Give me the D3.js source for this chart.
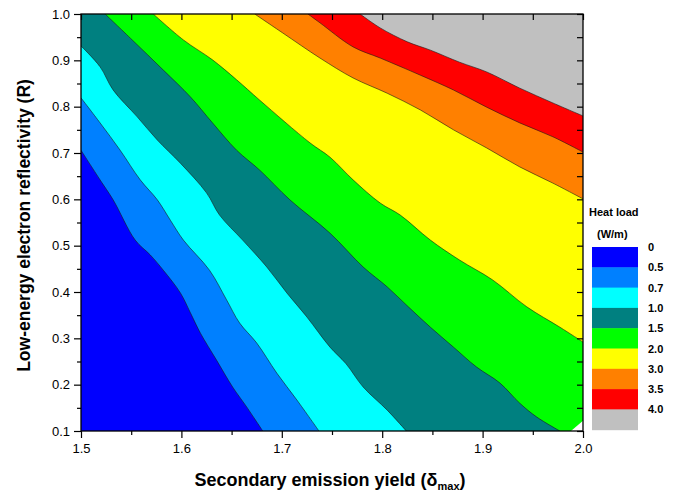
<!DOCTYPE html>
<html>
<head>
<meta charset="utf-8">
<script src="https://cdn.jsdelivr.net/npm/d3@7/dist/d3.min.js"></script>
<style>
  html, body { margin: 0; padding: 0; background: #fff; }
  svg { display: block; }
  text { font-family: "Liberation Sans", Arial, sans-serif; }
</style>
</head>
<body>
<svg id="chart" width="683" height="495"></svg>
<script>
// Heat load levels (W/m) and the fill colour of each band above a level
const heatLevels = [0, 0.5, 0.7, 1.0, 1.5, 2.0, 3.0, 3.5, 4.0];
const levelLabels = ["0", "0.5", "0.7", "1.0", "1.5", "2.0", "3.0", "3.5", "4.0"];
const levelColors = ["#0000ff", "#0080ff", "#00ffff", "#008080", "#00ff00",
                     "#ffff00", "#ff8000", "#ff0000", "#c0c0c0"];

// Axis ticks
const xMajorTicks = [1.5, 1.6, 1.7, 1.8, 1.9, 2.0];
const yMajorTicks = [0.1, 0.2, 0.3, 0.4, 0.5, 0.6, 0.7, 0.8, 0.9, 1.0];

// Iso-lines of heat load, [delta_max, R] pairs, running from the upper-left edge to the lower-right edge
const contour05 = [[1.500, 0.706], [1.519, 0.642], [1.532, 0.599], [1.554, 0.512], [1.569, 0.480],
                   [1.582, 0.447], [1.599, 0.398], [1.609, 0.355], [1.619, 0.311], [1.635, 0.253],
                   [1.651, 0.195], [1.665, 0.152], [1.681, 0.100]];
const contour07 = [[1.500, 0.819], [1.519, 0.765], [1.539, 0.706], [1.559, 0.642], [1.576, 0.599],
                   [1.589, 0.555], [1.602, 0.512], [1.628, 0.447], [1.645, 0.383], [1.658, 0.333],
                   [1.675, 0.290], [1.695, 0.225], [1.715, 0.167], [1.737, 0.100]];
const contour10 = [[1.500, 0.931], [1.519, 0.886], [1.532, 0.836], [1.556, 0.778], [1.576, 0.728],
                   [1.599, 0.678], [1.625, 0.614], [1.638, 0.566], [1.661, 0.512], [1.685, 0.454],
                   [1.705, 0.398], [1.725, 0.346], [1.748, 0.281], [1.764, 0.245], [1.781, 0.195],
                   [1.805, 0.145], [1.824, 0.100]];
const contour15 = [[1.524, 1.000], [1.551, 0.944], [1.582, 0.879], [1.609, 0.821], [1.631, 0.765],
                   [1.655, 0.706], [1.678, 0.663], [1.708, 0.599], [1.748, 0.527], [1.781, 0.454],
                   [1.805, 0.411], [1.826, 0.368], [1.848, 0.324], [1.871, 0.281], [1.894, 0.238],
                   [1.917, 0.204], [1.937, 0.160], [1.954, 0.130], [1.977, 0.100]];
const contour20 = [[1.572, 1.000], [1.602, 0.944], [1.631, 0.901], [1.655, 0.858], [1.678, 0.814],
                   [1.728, 0.722], [1.748, 0.691], [1.771, 0.642], [1.798, 0.592], [1.818, 0.566],
                   [1.848, 0.512], [1.877, 0.469], [1.910, 0.426], [1.944, 0.368], [1.977, 0.324],
                   [2.000, 0.292]];
const contour30 = [[1.673, 1.000], [1.701, 0.959], [1.738, 0.905], [1.771, 0.862], [1.805, 0.829],
                   [1.838, 0.793], [1.871, 0.750], [1.904, 0.711], [1.937, 0.670], [1.970, 0.635],
                   [2.000, 0.601]];
const contour35 = [[1.726, 1.000], [1.738, 0.981], [1.771, 0.929], [1.798, 0.905], [1.838, 0.868],
                   [1.871, 0.836], [1.904, 0.799], [1.937, 0.765], [1.970, 0.735], [2.000, 0.702]];
const contour40 = [[1.778, 1.000], [1.798, 0.970], [1.825, 0.940], [1.848, 0.922], [1.877, 0.896],
                   [1.904, 0.875], [1.937, 0.840], [1.970, 0.808], [2.000, 0.780]];

// Corner of the parameter space without computed data
const noDataRegion = [[1.988, 0.100], [2.000, 0.100], [2.000, 0.122]];

const contours = [contour05, contour07, contour10, contour15, contour20, contour30, contour35, contour40];

const svg = d3.select("#chart");
const x = d3.scaleLinear().domain([1.5, 2.0]).range([81, 583]);
const y = d3.scaleLinear().domain([0.1, 1.0]).range([431, 14]);
const [x0, x1] = x.domain();
const [y0, y1] = y.domain();

svg.append("clipPath").attr("id", "plot-clip")
  .append("rect")
  .attr("x", x(x0)).attr("y", y(y1))
  .attr("width", x(x1) - x(x0)).attr("height", y(y0) - y(y1));

const plot = svg.append("g").attr("clip-path", "url(#plot-clip)");
const smooth = d3.line().x(d => x(d[0])).y(d => y(d[1])).curve(d3.curveCatmullRom.alpha(0.5));
const straight = d3.line().x(d => x(d[0])).y(d => y(d[1]));

// Lowest band fills the whole field
plot.append("rect")
  .attr("x", x(x0)).attr("y", y(y1))
  .attr("width", x(x1) - x(x0)).attr("height", y(y0) - y(y1))
  .attr("fill", levelColors[0]);

// Each higher band covers the region above-right of its iso-line
contours.forEach((c, i) => {
  const start = c[0], end = c[c.length - 1];
  const corners = [];
  if (end[1] <= y0 + 1e-9) corners.push([x1, y0]);
  corners.push([x1, y1]);
  if (start[0] <= x0 + 1e-9) corners.push([x0, y1]);
  const tail = corners.map(p => `L${x(p[0])},${y(p[1])}`).join("");
  plot.append("path")
    .attr("d", smooth(c) + tail + "Z")
    .attr("fill", levelColors[i + 1]);
});

// Iso-line strokes
contours.forEach(c => {
  plot.append("path")
    .attr("d", smooth(c))
    .attr("fill", "none")
    .attr("stroke", "#1a1a1a")
    .attr("stroke-width", 0.6);
});

plot.append("path")
  .attr("d", straight(noDataRegion) + "Z")
  .attr("fill", "#ffffff");

// Axes
const fmt = d3.format(".1f");
const xMinor = xMajorTicks.slice(0, -1).map(v => v + 0.05);
const yMinor = yMajorTicks.slice(0, -1).map(v => v + 0.05);
const allX = xMajorTicks.concat(xMinor);
const allY = yMajorTicks.concat(yMinor);

function styleAxis(g) {
  g.select(".domain").remove();
  g.selectAll(".tick line").attr("stroke", "#000").attr("stroke-width", 1.2);
  g.selectAll(".tick text")
    .attr("fill", "#000")
    .style("font-size", "13px");
}

svg.append("g").attr("transform", `translate(0,${y(y0)})`)
  .call(d3.axisBottom(x).tickValues(xMajorTicks).tickSize(7).tickPadding(6).tickFormat(fmt))
  .call(styleAxis);
svg.append("g").attr("transform", `translate(0,${y(y0)})`)
  .call(d3.axisBottom(x).tickValues(xMinor).tickSize(4).tickFormat(""))
  .call(styleAxis);
svg.append("g").attr("transform", `translate(${x(x0)},0)`)
  .call(d3.axisLeft(y).tickValues(yMajorTicks).tickSize(7).tickPadding(4).tickFormat(fmt))
  .call(styleAxis);
svg.append("g").attr("transform", `translate(${x(x0)},0)`)
  .call(d3.axisLeft(y).tickValues(yMinor).tickSize(4).tickFormat(""))
  .call(styleAxis);
svg.append("g").attr("transform", `translate(0,${y(y1)})`)
  .call(d3.axisTop(x).tickValues(allX).tickSize(-6).tickFormat(""))
  .call(styleAxis);
svg.append("g").attr("transform", `translate(${x(x1)},0)`)
  .call(d3.axisRight(y).tickValues(allY).tickSize(-6).tickFormat(""))
  .call(styleAxis);

// Frame
svg.append("rect")
  .attr("x", x(x0)).attr("y", y(y1))
  .attr("width", x(x1) - x(x0)).attr("height", y(y0) - y(y1))
  .attr("fill", "none").attr("stroke", "#000").attr("stroke-width", 1.3);

// Axis titles
const xTitle = svg.append("text")
  .attr("x", (x(x0) + x(x1)) / 2 - 2).attr("y", 486)
  .attr("text-anchor", "middle")
  .style("font-size", "18px").style("font-weight", "bold");
xTitle.append("tspan").text("Secondary emission yield (\u03B4");
xTitle.append("tspan").attr("dy", 4).style("font-size", "11px").text("max");
xTitle.append("tspan").attr("dy", -4).text(")");

svg.append("text")
  .attr("transform", `translate(30,${(y(y0) + y(y1)) / 2 + 3}) rotate(-90)`)
  .attr("text-anchor", "middle")
  .style("font-size", "17.5px").style("font-weight", "bold")
  .text("Low-energy electron reflectivity (R)");

// Legend
const legend = svg.append("g");
const legTop = 247, legH = 20.3, legX = 592, legW = 46;
legend.append("text").attr("x", 589).attr("y", 216)
  .style("font-size", "11px").style("font-weight", "bold").text("Heat load");
legend.append("text").attr("x", 597).attr("y", 238)
  .style("font-size", "11px").style("font-weight", "bold").text("(W/m)");
legend.selectAll("rect.sw").data(levelColors).join("rect")
  .attr("class", "sw")
  .attr("x", legX).attr("y", (d, i) => legTop + i * legH)
  .attr("width", legW).attr("height", legH + 0.5)
  .attr("fill", d => d);
legend.selectAll("text.lv").data(levelLabels).join("text")
  .attr("class", "lv")
  .attr("x", 648).attr("y", (d, i) => legTop + i * legH + 4)
  .style("font-size", "11px").style("font-weight", "bold")
  .text(d => d);
</script>
</body>
</html>
